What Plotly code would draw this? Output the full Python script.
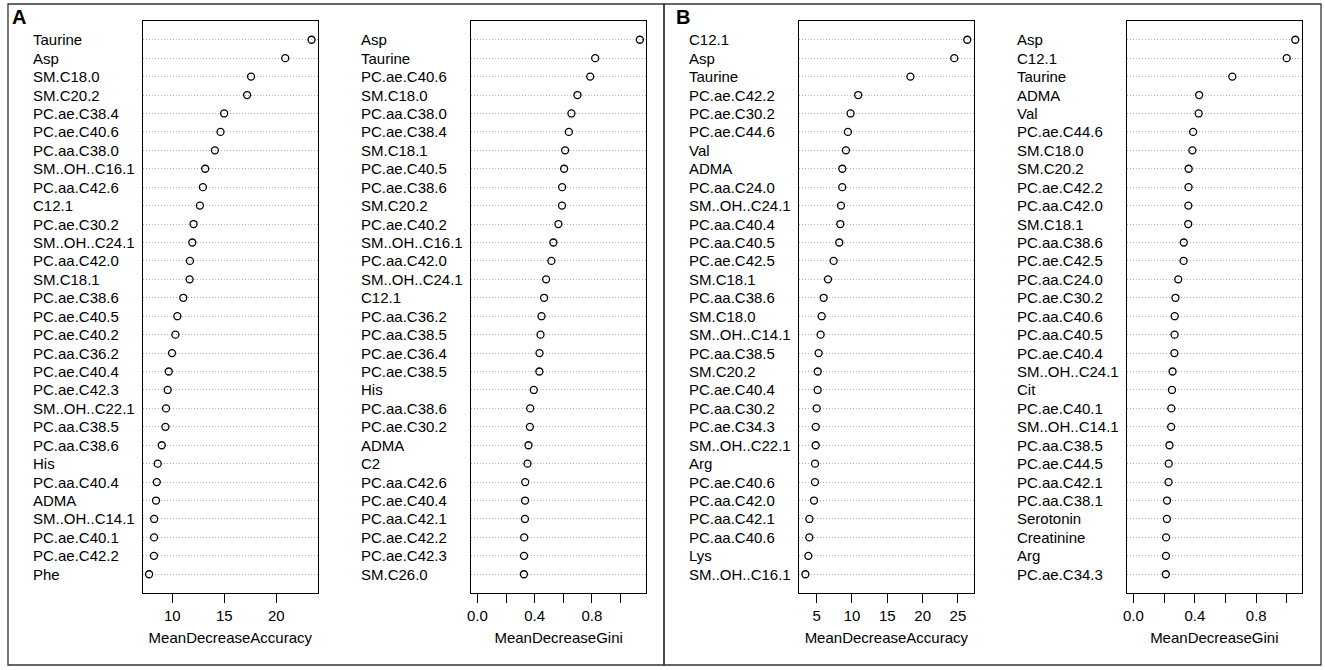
import plotly.graph_objects as go

W, H = 1325, 670

# ---------------- DATA ----------------
a_acc_names = ["Taurine", "Asp", "SM.C18.0", "SM.C20.2", "PC.ae.C38.4", "PC.ae.C40.6",
               "PC.aa.C38.0", "SM..OH..C16.1", "PC.aa.C42.6", "C12.1", "PC.ae.C30.2",
               "SM..OH..C24.1", "PC.aa.C42.0", "SM.C18.1", "PC.ae.C38.6", "PC.ae.C40.5",
               "PC.ae.C40.2", "PC.aa.C36.2", "PC.ae.C40.4", "PC.ae.C42.3", "SM..OH..C22.1",
               "PC.aa.C38.5", "PC.aa.C38.6", "His", "PC.aa.C40.4", "ADMA", "SM..OH..C14.1",
               "PC.ae.C40.1", "PC.ae.C42.2", "Phe"]
a_acc_vals = [23.39, 20.86, 17.57, 17.19, 14.98, 14.63, 14.09, 13.16, 12.94, 12.65, 12.04,
              11.92, 11.69, 11.66, 11.05, 10.48, 10.29, 9.97, 9.65, 9.55, 9.39, 9.33, 8.98,
              8.59, 8.50, 8.43, 8.25, 8.24, 8.23, 7.76]

a_gini_names = ["Asp", "Taurine", "PC.ae.C40.6", "SM.C18.0", "PC.aa.C38.0", "PC.ae.C38.4",
                "SM.C18.1", "PC.ae.C40.5", "PC.ae.C38.6", "SM.C20.2", "PC.ae.C40.2",
                "SM..OH..C16.1", "PC.aa.C42.0", "SM..OH..C24.1", "C12.1", "PC.aa.C36.2",
                "PC.aa.C38.5", "PC.ae.C36.4", "PC.ae.C38.5", "His", "PC.aa.C38.6",
                "PC.ae.C30.2", "ADMA", "C2", "PC.aa.C42.6", "PC.ae.C40.4", "PC.aa.C42.1",
                "PC.ae.C42.2", "PC.ae.C42.3", "SM.C26.0"]
a_gini_vals = [1.135, 0.823, 0.788, 0.699, 0.657, 0.639, 0.613, 0.606, 0.592, 0.591, 0.566,
               0.531, 0.517, 0.480, 0.466, 0.448, 0.441, 0.434, 0.433, 0.394, 0.369, 0.367,
               0.357, 0.350, 0.334, 0.333, 0.332, 0.327, 0.326, 0.325]

b_acc_names = ["C12.1", "Asp", "Taurine", "PC.ae.C42.2", "PC.ae.C30.2", "PC.ae.C44.6", "Val",
               "ADMA", "PC.aa.C24.0", "SM..OH..C24.1", "PC.aa.C40.4", "PC.aa.C40.5",
               "PC.ae.C42.5", "SM.C18.1", "PC.aa.C38.6", "SM.C18.0", "SM..OH..C14.1",
               "PC.aa.C38.5", "SM.C20.2", "PC.ae.C40.4", "PC.aa.C30.2", "PC.ae.C34.3",
               "SM..OH..C22.1", "Arg", "PC.ae.C40.6", "PC.aa.C42.0", "PC.aa.C42.1",
               "PC.aa.C40.6", "Lys", "SM..OH..C16.1"]
b_acc_vals = [26.32, 24.48, 18.27, 10.88, 9.80, 9.42, 9.14, 8.63, 8.62, 8.44, 8.34, 8.20,
              7.40, 6.60, 5.99, 5.71, 5.56, 5.28, 5.15, 5.14, 5.00, 4.87, 4.86, 4.77, 4.76,
              4.62, 3.97, 3.96, 3.82, 3.40]

b_gini_names = ["Asp", "C12.1", "Taurine", "ADMA", "Val", "PC.ae.C44.6", "SM.C18.0", "SM.C20.2",
                "PC.ae.C42.2", "PC.aa.C42.0", "SM.C18.1", "PC.aa.C38.6", "PC.ae.C42.5",
                "PC.aa.C24.0", "PC.ae.C30.2", "PC.aa.C40.6", "PC.aa.C40.5", "PC.ae.C40.4",
                "SM..OH..C24.1", "Cit", "PC.ae.C40.1", "SM..OH..C14.1", "PC.aa.C38.5",
                "PC.ae.C44.5", "PC.aa.C42.1", "PC.aa.C38.1", "Serotonin", "Creatinine",
                "Arg", "PC.ae.C34.3"]
b_gini_vals = [1.054, 0.998, 0.644, 0.428, 0.425, 0.389, 0.384, 0.360, 0.359, 0.358, 0.357,
               0.328, 0.327, 0.292, 0.274, 0.269, 0.268, 0.267, 0.255, 0.251, 0.247, 0.246,
               0.235, 0.230, 0.229, 0.219, 0.218, 0.213, 0.212, 0.211]

acc_a_ticks = [10, 15, 20]
acc_b_ticks = [5, 10, 15, 20, 25]
gini_ticks = [0.0, 0.2, 0.4, 0.6, 0.8, 1.0]
gini_ticktext = ["0.0", "", "0.4", "", "0.8", ""]

x_title_acc = "MeanDecreaseAccuracy"
x_title_gini = "MeanDecreaseGini"
panel_letters = ["A", "B"]

# ---------------- LAYOUT ----------------
FONT = "Arial, Liberation Sans, sans-serif"
FS = 15

panels = [
    dict(names=a_acc_names, vals=a_acc_vals, box=(139, 315), lab=27.5, ticks=acc_a_ticks,
         ticktext=None, title=x_title_acc, zero=False),
    dict(names=a_gini_names, vals=a_gini_vals, box=(468.3, 644.3), lab=356.5, ticks=gini_ticks,
         ticktext=gini_ticktext, title=x_title_gini, zero=True),
    dict(names=b_acc_names, vals=b_acc_vals, box=(797.3, 972.7), lab=685, ticks=acc_b_ticks,
         ticktext=None, title=x_title_acc, zero=False),
    dict(names=b_gini_names, vals=b_gini_vals, box=(1126.3, 1301.7), lab=1014, ticks=gini_ticks,
         ticktext=gini_ticktext, title=x_title_gini, zero=True),
]

TOP, BOT = 21.3, 592.7

fig = go.Figure()
annotations = []
for i, p in enumerate(panels, start=1):
    xa = "x" if i == 1 else f"x{i}"
    ya = "y" if i == 1 else f"y{i}"
    fig.add_trace(go.Scatter(
        x=p["vals"], y=p["names"], mode="markers", xaxis=xa, yaxis=ya,
        marker=dict(symbol="circle-open", size=7, color="black", line=dict(width=1.3, color="black")),
        showlegend=False, hoverinfo="x+y"))
    lo = 0 if p["zero"] else min(p["vals"])
    hi = max(p["vals"])
    pad = 0.04 * (hi - lo)
    n = len(p["names"])
    xkey = "xaxis" if i == 1 else f"xaxis{i}"
    ykey = "yaxis" if i == 1 else f"yaxis{i}"
    xd = dict(domain=[p["box"][0] / W, p["box"][1] / W], anchor=ya, range=[lo - pad, hi + pad],
              showgrid=False, zeroline=False, showline=True, mirror=True, linecolor="black",
              linewidth=1.2, ticks="outside", ticklen=9, tickwidth=1.2, tickcolor="black",
              tickvals=p["ticks"], tickfont=dict(family=FONT, size=FS, color="black"),
              title=dict(text=p["title"], font=dict(family=FONT, size=FS, color="black"), standoff=9))
    if p["ticktext"] is not None:
        xd["ticktext"] = p["ticktext"]
    fig.update_layout({xkey: xd})
    fig.update_layout({ykey: dict(
        domain=[1 - BOT / H, 1 - TOP / H], anchor=xa, type="category",
        categoryorder="array", categoryarray=p["names"], range=[n, -1],
        showticklabels=False, ticks="", showline=True, mirror=True, linecolor="black",
        linewidth=1.2, showgrid=True, gridcolor="#b4b4b4", griddash="1px,2px", gridwidth=1,
        zeroline=False)})
    for nm in p["names"]:
        annotations.append(dict(x=p["lab"] / W, xref="paper", y=nm, yref=ya, text=nm,
                                xanchor="left", yanchor="middle", showarrow=False,
                                font=dict(family=FONT, size=FS, color="black")))

# panel letters
for letter, px in zip(panel_letters, [6, 672]):
    annotations.append(dict(x=px / W, xref="paper", y=1 - 17 / H, yref="paper",
                            text=f"<b>{letter}</b>", xanchor="left", yanchor="middle",
                            showarrow=False, font=dict(family=FONT, size=20, color="black")))

shapes = [
    dict(type="rect", xref="paper", yref="paper", x0=4 / W, x1=662 / W, y0=1 - 665 / H,
         y1=1 - 4 / H, line=dict(color="#333333", width=1.3)),
    dict(type="rect", xref="paper", yref="paper", x0=662 / W, x1=1321 / W, y0=1 - 665 / H,
         y1=1 - 4 / H, line=dict(color="#333333", width=1.3)),
]

fig.update_layout(width=W, height=H, margin=dict(l=0, r=0, t=0, b=0),
                  paper_bgcolor="white", plot_bgcolor="white",
                  annotations=annotations, shapes=shapes,
                  font=dict(family=FONT, size=FS, color="black"))

fig.write_html("out.html", config={"displayModeBar": False},
               post_script="document.body.style.margin='0px';")
